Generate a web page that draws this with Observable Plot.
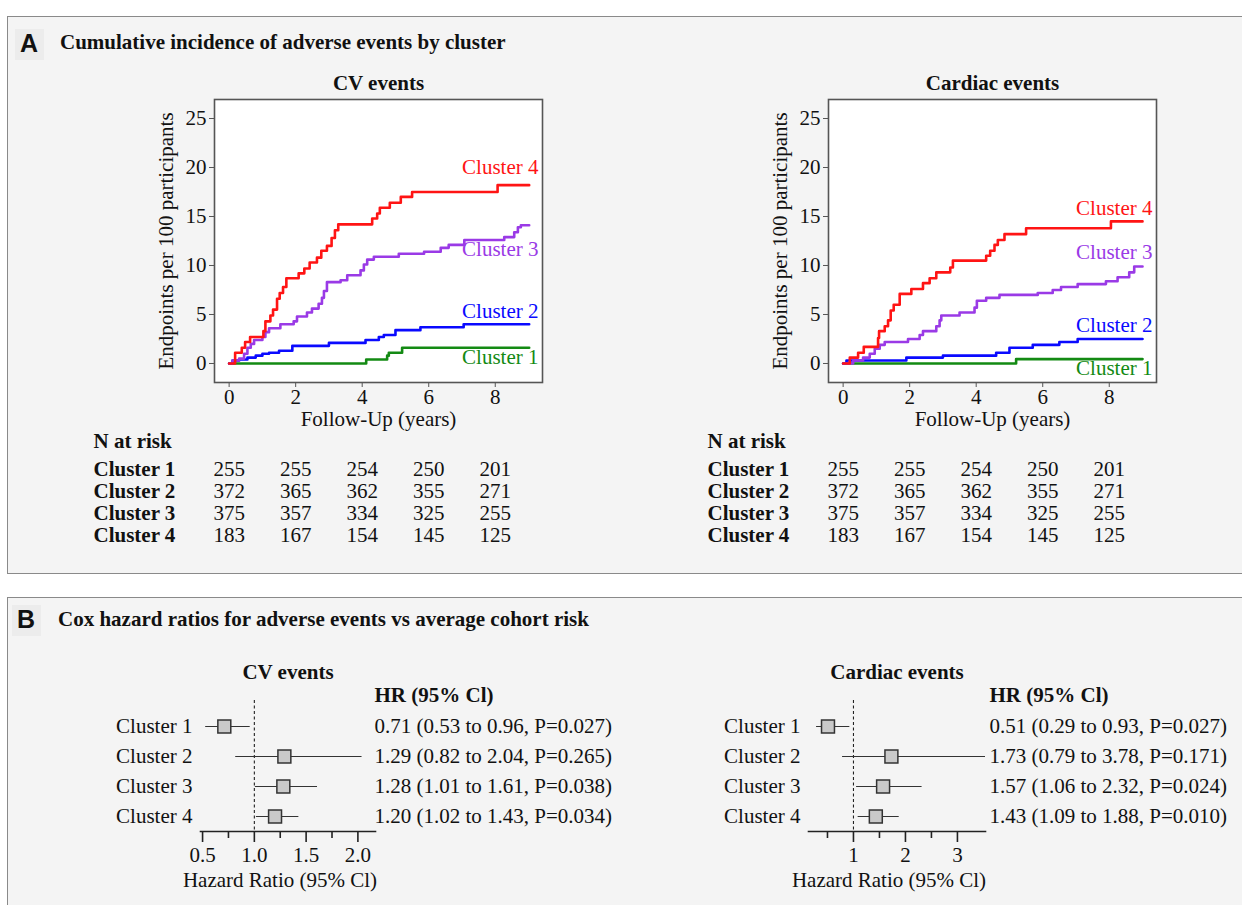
<!DOCTYPE html>
<html><head><meta charset="utf-8">
<script src="https://cdn.jsdelivr.net/npm/d3@7"></script>
<script src="https://cdn.jsdelivr.net/npm/@observablehq/plot@0.6"></script>
<style>
body{margin:0;background:#fff;}
#root{position:relative;width:1242px;height:905px;overflow:hidden;font-family:"Liberation Serif","Times New Roman",serif;color:#111;}
.panel{position:absolute;background:#f4f4f4;border:1.5px solid #8a8a8a;box-sizing:border-box;}
.lbl{position:absolute;font-family:"Liberation Sans",Arial,sans-serif;font-weight:bold;font-size:25px;line-height:25px;background:#ececec;padding:2px 6px 4px 5px;}
.ttl{position:absolute;font-weight:bold;font-size:21px;line-height:21px;white-space:nowrap;}
#root svg{position:absolute;}
</style></head>
<body>
<div id="root">
  <div class="panel" style="left:7px;top:16px;width:1250px;height:558px;"></div>
  <div class="panel" style="left:7px;top:597px;width:1250px;height:330px;"></div>
  <div class="lbl" style="left:15px;top:29px;">A</div>
  <div class="ttl" style="left:60px;top:32px;">Cumulative incidence of adverse events by cluster</div>
  <div class="lbl" style="left:12px;top:605px;">B</div>
  <div class="ttl" style="left:58px;top:609px;">Cox hazard ratios for adverse events vs average cohort risk</div>
</div>
<script>
const SERIF = '"Liberation Serif","Times New Roman",serif';
const clusters = ["Cluster 1", "Cluster 2", "Cluster 3", "Cluster 4"];
const clusterColors = ["#138a13", "#0a0aff", "#9a3ae6", "#ff1414"];

// CV events: cumulative incidence steps [years, endpoints per 100]
const cvCluster1 = [[0,0],[4.12,0.4],[4.75,0.8],[4.8,1.1],[5.2,1.6],[9.02,1.6]];
const cvCluster2 = [[0,0],[0.1,0.3],[0.3,0.4],[0.55,0.6],[0.8,0.8],[1.0,1.0],[1.2,1.1],[1.5,1.3],[1.9,1.8],[3.0,2.1],[4.1,2.4],[4.5,2.7],[4.65,2.9],[5.0,3.4],[5.75,3.7],[7.05,4.0],[9.02,4.0]];
const cvCluster3 = [[0,0],[0.1,0.3],[0.3,0.5],[0.45,1.0],[0.55,1.6],[0.65,2.0],[0.75,2.4],[1.0,2.7],[1.09,3.2],[1.2,3.6],[1.54,4.0],[1.94,4.3],[2.04,4.8],[2.34,5.2],[2.49,5.6],[2.69,6.1],[2.79,6.7],[2.85,7.4],[2.94,8.3],[3.35,8.5],[3.55,9.0],[3.95,9.5],[4.05,10.1],[4.15,10.6],[4.35,10.9],[5.1,11.2],[5.86,11.4],[6.36,11.8],[6.6,12.1],[7.07,12.6],[8.27,12.9],[8.57,13.4],[8.68,13.9],[8.77,14.1],[9.02,14.1]];
const cvCluster4 = [[0,0],[0.18,1.1],[0.38,1.6],[0.48,2.2],[0.63,2.7],[1.03,3.3],[1.09,4.3],[1.24,4.9],[1.32,5.5],[1.44,6.6],[1.52,7.2],[1.62,7.8],[1.72,8.7],[2.09,9.2],[2.26,9.7],[2.42,10.3],[2.64,10.8],[2.77,11.5],[2.94,12.0],[3.08,12.8],[3.18,13.6],[3.28,14.2],[4.3,14.8],[4.45,15.3],[4.53,15.9],[4.83,16.4],[5.16,17.0],[5.5,17.5],[8.07,18.2],[9.02,18.2]];

// Cardiac events
const cardCluster1 = [[0,0],[5.2,0.45],[9.0,0.45]];
const cardCluster2 = [[0,0],[0.1,0.3],[1.9,0.6],[3.0,0.8],[4.6,1.1],[5.0,1.6],[5.7,1.9],[6.5,2.2],[7.05,2.5],[9.0,2.5]];
const cardCluster3 = [[0,0],[0.3,0.3],[0.6,0.6],[0.8,1.0],[0.95,1.5],[1.1,1.9],[1.25,2.2],[1.95,2.5],[2.3,2.9],[2.4,3.3],[2.8,3.8],[2.9,4.4],[2.95,4.9],[3.5,5.2],[3.95,5.7],[4.02,6.4],[4.3,6.7],[4.7,7.0],[5.85,7.2],[6.3,7.5],[6.55,7.8],[7.05,8.1],[7.9,8.4],[8.25,8.8],[8.6,9.3],[8.75,9.9],[9.0,9.9]];
const cardCluster4 = [[0,0],[0.2,0.6],[0.45,1.1],[0.62,1.7],[1.05,2.6],[1.08,3.3],[1.25,3.8],[1.35,4.4],[1.43,5.4],[1.52,6.0],[1.7,7.1],[2.05,7.6],[2.4,8.2],[2.6,8.7],[2.8,9.3],[3.22,9.8],[3.3,10.5],[4.3,11.0],[4.42,11.5],[4.55,12.1],[4.65,12.6],[4.85,13.2],[5.5,13.8],[8.05,14.5],[9.0,14.5]];

// label heights (data units) for curve labels
const cvLabelY = [0.6, 5.3, 11.7, 20.0];
const cardLabelY = [-0.5, 3.9, 11.4, 15.8];

const kmXTicks = [0, 2, 4, 6, 8];
const kmYTicks = [0, 5, 10, 15, 20, 25];

// N at risk
const riskTimes = [0, 2, 4, 6, 8];
const riskCluster1 = [255, 255, 254, 250, 201];
const riskCluster2 = [372, 365, 362, 355, 271];
const riskCluster3 = [375, 357, 334, 325, 255];
const riskCluster4 = [183, 167, 154, 145, 125];

// Cox hazard ratios
const cvHR = [0.71, 1.29, 1.28, 1.20];
const cvLo = [0.53, 0.82, 1.01, 1.02];
const cvHi = [0.96, 2.04, 1.61, 1.43];
const cvP  = [0.027, 0.265, 0.038, 0.034];
const cardHR = [0.51, 1.73, 1.57, 1.43];
const cardLo = [0.29, 0.79, 1.06, 1.09];
const cardHi = [0.93, 3.78, 2.32, 1.88];
const cardP  = [0.027, 0.171, 0.024, 0.010];
const cvTicks = [0.5, 1.0, 1.5, 2.0];
const cvMinor = [0.75, 1.25, 1.75];
const cardTicks = [1, 2, 3];
const cardMinor = [0.5, 1.5, 2.5];

const root = document.getElementById("root");
const baseStyle = {fontFamily: SERIF, fontSize: "21px", color: "#111", background: "transparent"};
function place(el, left, top) { el.style.left = left + "px"; el.style.top = top + "px"; root.appendChild(el); }

function km(title, series, labelY) {
  const rows = series.flatMap((s, i) => s.map(([t, v]) => ({t, v, cluster: clusters[i]})));
  const labs = clusters.map((c, i) => ({cluster: c, y: labelY[i]}));
  return Plot.plot({
    width: 420, height: 380, marginLeft: 84, marginRight: 8, marginTop: 44, marginBottom: 53,
    style: baseStyle,
    x: {domain: [-0.44, 9.42]}, y: {domain: [-1.94, 26.94]},
    color: {domain: clusters, range: clusterColors},
    marks: [
      Plot.frame({fill: "white"}),
      Plot.line(rows, {x: "t", y: "v", z: "cluster", stroke: "cluster", curve: "step-after", strokeWidth: 2.6}),
      Plot.text(labs, {y: "y", text: "cluster", fill: "cluster", frameAnchor: "right", textAnchor: "end", lineAnchor: "middle", dx: -4}),
      Plot.frame({stroke: "#555", strokeWidth: 1.6}),
      Plot.axisY({ticks: kmYTicks, tickSize: 5, tickPadding: 3, label: null, stroke: "#555"}),
      Plot.axisX({ticks: kmXTicks, tickSize: 5, tickPadding: 2, label: null, stroke: "#555"}),
      Plot.text([title], {frameAnchor: "top", dy: -16, lineAnchor: "middle", fontWeight: "bold"}),
      Plot.text(["Endpoints per 100 participants"], {frameAnchor: "left", dx: -48, rotate: -90, textAnchor: "middle", lineAnchor: "middle"}),
      Plot.text(["Follow-Up (years)"], {frameAnchor: "bottom", dy: 37, lineAnchor: "middle"})
    ]
  });
}

function riskTable() {
  const riskN = [riskCluster1, riskCluster2, riskCluster3, riskCluster4];
  const rows = clusters.flatMap((c, i) => riskTimes.map((t, j) => ({t, cluster: c, n: riskN[i][j]})));
  return Plot.plot({
    width: 470, height: 125, marginLeft: 134, marginRight: 8, marginTop: 43, marginBottom: 15,
    style: baseStyle,
    x: {domain: [-0.44, 9.42], axis: null},
    y: {type: "point", domain: clusters, padding: 0, axis: null},
    marks: [
      Plot.text(rows, {x: "t", y: "cluster", text: d => String(d.n), lineAnchor: "middle"}),
      Plot.text(clusters, {y: d => d, text: d => d, frameAnchor: "left", textAnchor: "start", lineAnchor: "middle", dx: -121, fontWeight: "bold"}),
      Plot.text(["N at risk"], {frameAnchor: "top-left", textAnchor: "start", lineAnchor: "middle", dx: -121, dy: -27, fontWeight: "bold"})
    ]
  });
}

function forest(title, hr, lo, hi, p, domain, ticks, minor, fmt, width, textDx) {
  const data = clusters.map((c, i) => ({
    cluster: c, hr: hr[i], lo: lo[i], hi: hi[i],
    label: `${hr[i].toFixed(2)} (${lo[i].toFixed(2)} to ${hi[i].toFixed(2)}, P=${p[i].toFixed(3)})`
  }));
  return Plot.plot({
    width, height: 262, marginLeft: 100, marginRight: 245, marginTop: 60, marginBottom: 71,
    style: baseStyle,
    x: {domain},
    y: {type: "point", domain: clusters, range: [86, 176], padding: 0, axis: null},
    marks: [
      Plot.ruleX([1], {stroke: "#222", strokeDasharray: "3,2.5", strokeWidth: 1.1}),
      Plot.ruleY(data, {y: "cluster", x1: "lo", x2: "hi", stroke: "#333", strokeWidth: 1.2, clip: true}),
      Plot.dot(data, {x: "hr", y: "cluster", symbol: "square", r: 7.3, fill: "#c9c9c9", stroke: "#333", strokeWidth: 1.5}),
      Plot.frame({anchor: "bottom", stroke: "#222", strokeWidth: 1.6}),
      Plot.axisX({ticks, tickSize: 11, tickPadding: 5, tickFormat: fmt, label: null, stroke: "#222", strokeWidth: 1.6}),
      Plot.axisX({ticks: minor, tickSize: 7, tickFormat: () => "", label: null, stroke: "#222", strokeWidth: 1.6}),
      Plot.text(clusters, {y: d => d, text: d => d, frameAnchor: "left", textAnchor: "end", lineAnchor: "middle", dx: -8}),
      Plot.text(data, {y: "cluster", text: "label", frameAnchor: "right", textAnchor: "start", lineAnchor: "middle", dx: textDx}),
      Plot.text(["HR (95% Cl)"], {frameAnchor: "top-right", textAnchor: "start", lineAnchor: "middle", dy: -5, dx: textDx, fontWeight: "bold"}),
      Plot.text([title], {frameAnchor: "top", lineAnchor: "middle", dy: -28, fontWeight: "bold"}),
      Plot.text(["Hazard Ratio (95% Cl)"], {frameAnchor: "bottom", lineAnchor: "middle", dy: 49, dx: -8})
    ]
  });
}

place(km("CV events", [cvCluster1, cvCluster2, cvCluster3, cvCluster4], cvLabelY), 130, 55);
place(km("Cardiac events", [cardCluster1, cardCluster2, cardCluster3, cardCluster4], cardLabelY), 744, 55);
place(riskTable(), 80, 425);
place(riskTable(), 694, 425);
place(forest("CV events", cvHR, cvLo, cvHi, cvP, [0.48, 2.17], cvTicks, cvMinor, d3.format(".1f"), 520, -1), 100, 640);
place(forest("Cardiac events", cardHR, cardLo, cardHi, cardP, [0.135, 3.54], cardTicks, cardMinor, d3.format("d"), 522, 4), 708, 640);
</script>
</body></html>
